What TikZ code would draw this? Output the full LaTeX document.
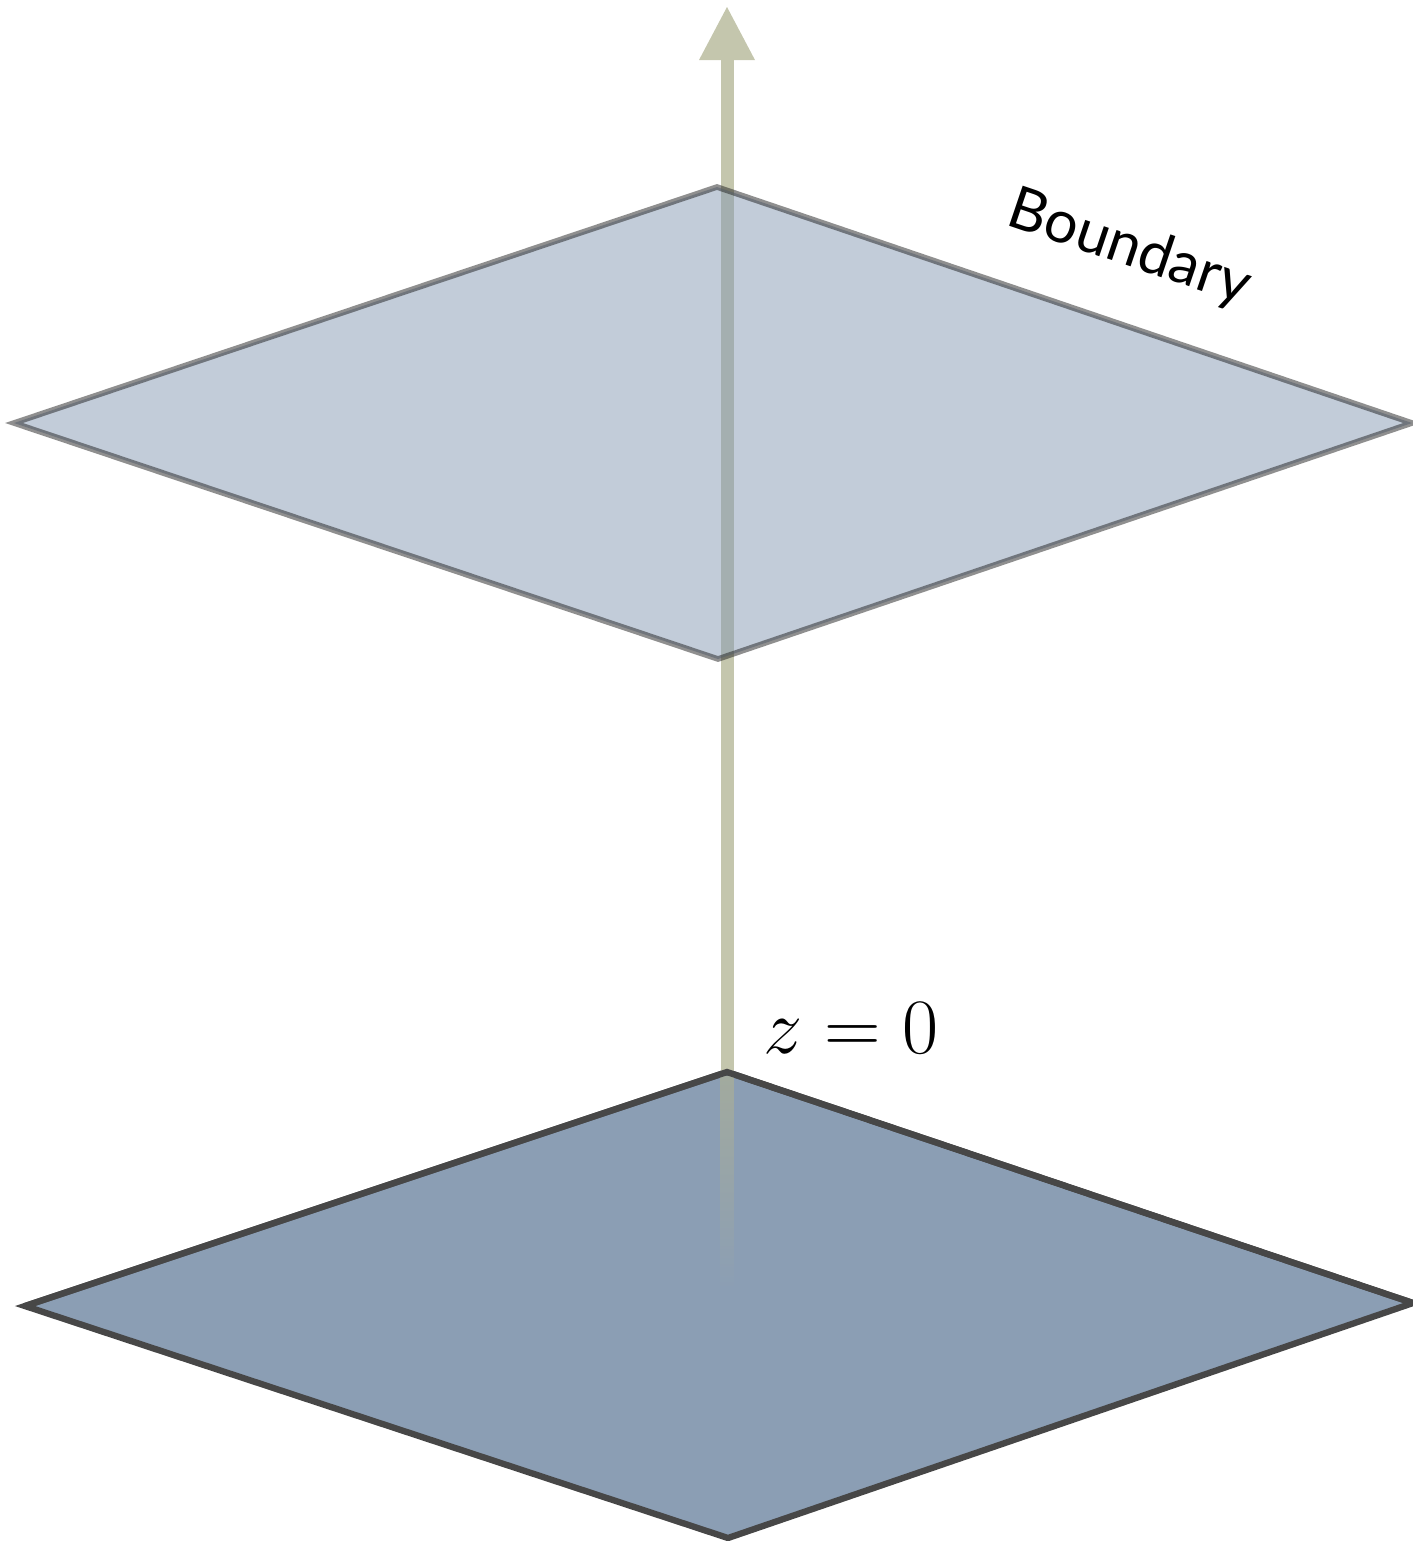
\RequirePackage{fix-cm}
\documentclass[tikz,border=0pt]{standalone}
\usepackage{fontspec}
\newfontfamily\labelfont{Lato}
\definecolor{arrowcol}{HTML}{C4C6AD}
\definecolor{upfill}{HTML}{8599B3}
\definecolor{upedge}{HTML}{202020}
\definecolor{lowfill}{HTML}{8B9EB4}
\definecolor{lowedge}{HTML}{474747}
\definecolor{ghost}{HTML}{A2AA9E}
\begin{document}
\begin{tikzpicture}[x=0.01cm,y=-0.01cm,
  plane/.style={line width=1.6pt,line join=miter},
  upperplane/.style={plane,fill=upfill,fill opacity=0.5,draw=upedge,draw opacity=0.5},
  lowerplane/.style={plane,line width=1.8pt,fill=lowfill,draw=lowedge}]
\useasboundingbox (0,0) rectangle (1413,1541);
% coordinates
\coordinate (ut) at (717,187);
\coordinate (ur) at (1412,423);
\coordinate (ub) at (718,659);
\coordinate (ul) at (14,423);
\coordinate (lt) at (727,1072);
\coordinate (lr) at (1413,1303);
\coordinate (lb) at (728,1538);
\coordinate (ll) at (25,1306);
\coordinate (tip) at (727,7);
\coordinate (base) at (727,60);
% lower plane
\draw[lowerplane] (lt) -- (lr) -- (lb) -- (ll) -- cycle;
% ghost of the axis inside the lower plane
\shade[top color=ghost,bottom color=lowfill] (720.5,1076) rectangle (733.5,1290);
% axis
\fill[arrowcol] (720.5,1072) rectangle (733.5,58);
\fill[arrowcol] (699,60) -- (tip) -- (755,60) -- cycle;
% upper plane (translucent)
\draw[upperplane] (ut) -- (ur) -- (ub) -- (ul) -- cycle;
% redraw lower plane top edge over the axis foot
\draw[plane,line width=1.8pt,draw=lowedge,line cap=round] (ll) -- (lt) -- (lr);
% labels
\node[anchor=base west,inner sep=0pt,rotate=-18.7,font=\labelfont\fontsize{16.8}{20}\selectfont] (boundary) at (1004,224) {Boundary};
\node[anchor=base west,inner sep=0pt,font=\fontsize{22.3}{26}\selectfont] (zzero) at (763,1053) {$z=0$};
\end{tikzpicture}
\end{document}
